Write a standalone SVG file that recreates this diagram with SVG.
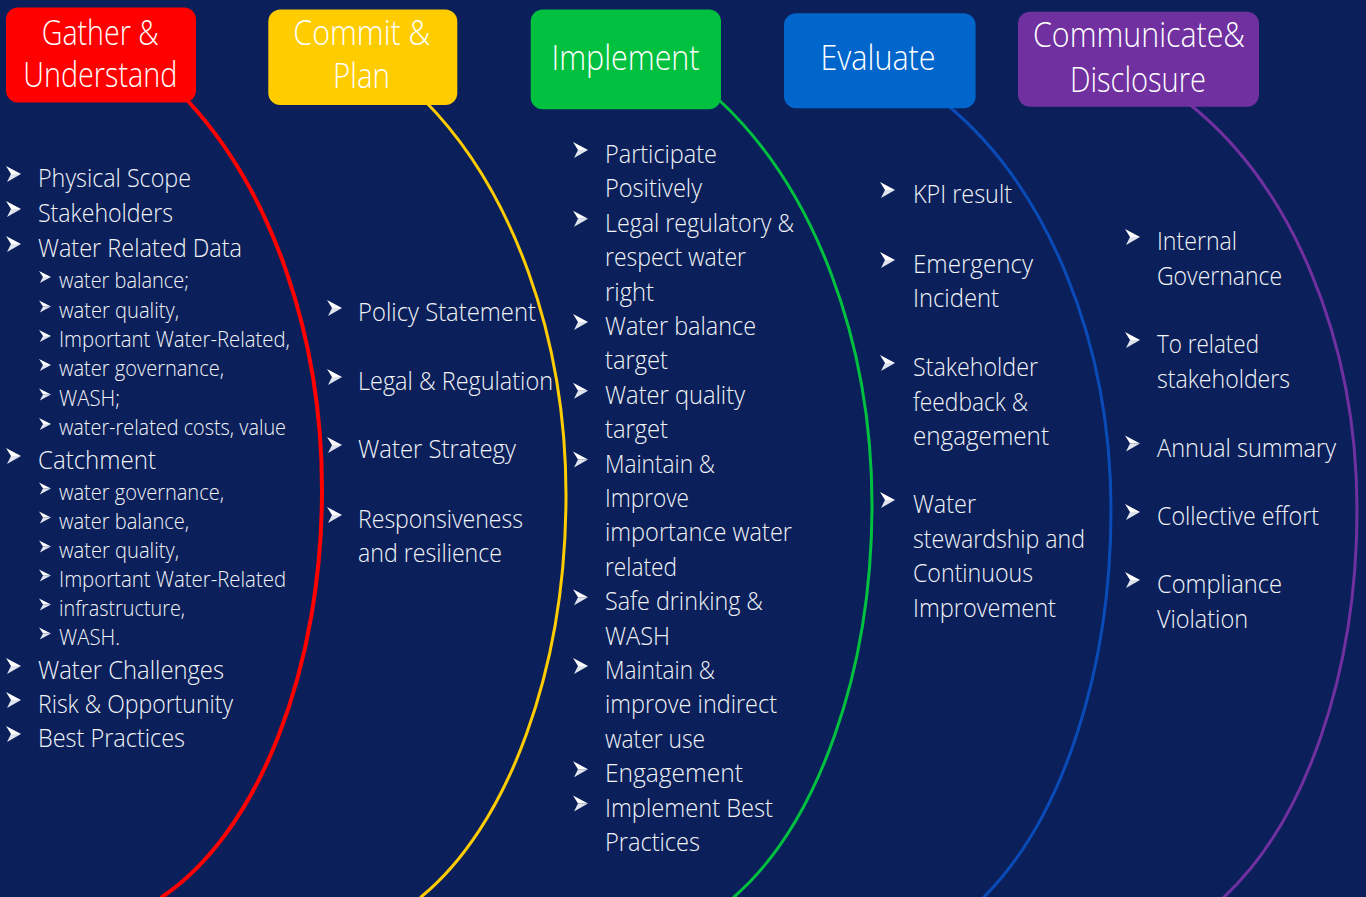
<svg xmlns="http://www.w3.org/2000/svg" width="1366" height="897" viewBox="0 0 1366 897">
<style>
.t{font-family:"Open Sans","Liberation Sans",sans-serif;font-size:25px;font-weight:300;fill:#f2f4f9}
.s{font-size:22.5px}
.h{font-family:"Open Sans","Liberation Sans",sans-serif;font-size:34px;font-weight:300;fill:#ffffff}
.c{fill:none;stroke-linecap:round}
</style>
<defs>
<g id="ar"><path d="M0,0 L15,8 L5,8 Z" fill="#ffffff"/><path d="M5,8 L15,8 L1,16 Z" fill="#dfe3ee"/></g>
<g id="as"><path d="M0,0 L12,6 L4,6 Z" fill="#ffffff"/><path d="M4,6 L12,6 L0.8,12 Z" fill="#dfe3ee"/></g>
</defs>
<rect x="0" y="0" width="1366" height="897" fill="#0b205a"/>

<g id="connectors">
<path class="c" stroke="#ff0000" stroke-width="4" d="M187,100 A330,483.4 0 0 1 322,490 A250,436.2 0 0 1 162,897"/>
<path class="c" stroke="#ffcc00" stroke-width="3" d="M424,100 A330,480.6 0 0 1 566,495 A250,443 0 0 1 421,897"/>
<path class="c" stroke="#00c040" stroke-width="3" d="M719,100 A330,480 0 0 1 872,505 A250,438.5 0 0 1 734,897"/>
<path class="c" stroke="#0a4bb8" stroke-width="3" d="M946,104 A330,469 0 0 1 1111,510 A250,444.5 0 0 1 984,897"/>
<path class="c" stroke="#7030a0" stroke-width="3" d="M1188,103 A330,466 0 0 1 1357,510 A250,438 0 0 1 1224,897"/>
</g>

<g id="gather">
<rect x="6" y="7.5" width="190" height="95" rx="12" fill="#ff0000"/>
<text class="h" x="41.7" y="45" textLength="117" lengthAdjust="spacingAndGlyphs">Gather &amp;</text>
<text class="h" x="23.3" y="87" textLength="154" lengthAdjust="spacingAndGlyphs">Understand</text>
</g>
<g id="commit">
<rect x="268.3" y="9.5" width="189" height="95.5" rx="12" fill="#ffcc00"/>
<text class="h" x="293.3" y="45" textLength="137" lengthAdjust="spacingAndGlyphs">Commit &amp;</text>
<text class="h" x="333" y="88" textLength="57" lengthAdjust="spacingAndGlyphs">Plan</text>
</g>
<g id="implement">
<rect x="530.7" y="9.5" width="190.3" height="99.8" rx="12" fill="#00c040"/>
<text class="h" x="551.5" y="70" textLength="148" lengthAdjust="spacingAndGlyphs">Implement</text>
</g>
<g id="evaluate">
<rect x="784" y="13.3" width="191.6" height="95" rx="12" fill="#0066cc"/>
<text class="h" x="820.5" y="70" textLength="115" lengthAdjust="spacingAndGlyphs">Evaluate</text>
</g>
<g id="communicate">
<rect x="1018" y="11.7" width="241" height="95" rx="12" fill="#7030a0"/>
<text class="h" x="1033" y="47" textLength="212" lengthAdjust="spacingAndGlyphs">Communicate&amp;</text>
<text class="h" x="1070" y="92" textLength="136" lengthAdjust="spacingAndGlyphs">Disclosure</text>
</g>

<g id="list-gather">
<use href="#ar" x="6" y="166"/><text class="t" x="38" y="187" textLength="153" lengthAdjust="spacingAndGlyphs">Physical Scope</text>
<use href="#ar" x="6" y="201"/><text class="t" x="38" y="222" textLength="135" lengthAdjust="spacingAndGlyphs">Stakeholders</text>
<use href="#ar" x="6" y="236"/><text class="t" x="38" y="257" textLength="204" lengthAdjust="spacingAndGlyphs">Water Related Data</text>
<use href="#as" x="39" y="271"/><text class="t s" x="59" y="288" textLength="130" lengthAdjust="spacingAndGlyphs">water balance;</text>
<use href="#as" x="39" y="300.5"/><text class="t s" x="59" y="317.5" textLength="120" lengthAdjust="spacingAndGlyphs">water quality,</text>
<use href="#as" x="39" y="330"/><text class="t s" x="59" y="347" textLength="231" lengthAdjust="spacingAndGlyphs">Important Water-Related,</text>
<use href="#as" x="39" y="359"/><text class="t s" x="59" y="376" textLength="165" lengthAdjust="spacingAndGlyphs">water governance,</text>
<use href="#as" x="39" y="388.5"/><text class="t s" x="59" y="405.5" textLength="61" lengthAdjust="spacingAndGlyphs">WASH;</text>
<use href="#as" x="39" y="418"/><text class="t s" x="59" y="435" textLength="227" lengthAdjust="spacingAndGlyphs">water-related costs, value</text>
<use href="#ar" x="6" y="448"/><text class="t" x="38" y="469" textLength="118" lengthAdjust="spacingAndGlyphs">Catchment</text>
<use href="#as" x="39" y="482.5"/><text class="t s" x="59" y="499.5" textLength="165" lengthAdjust="spacingAndGlyphs">water governance,</text>
<use href="#as" x="39" y="511.5"/><text class="t s" x="59" y="528.5" textLength="130" lengthAdjust="spacingAndGlyphs">water balance,</text>
<use href="#as" x="39" y="540.5"/><text class="t s" x="59" y="557.5" textLength="120" lengthAdjust="spacingAndGlyphs">water quality,</text>
<use href="#as" x="39" y="569.5"/><text class="t s" x="59" y="586.5" textLength="227" lengthAdjust="spacingAndGlyphs">Important Water-Related</text>
<use href="#as" x="39" y="598.5"/><text class="t s" x="59" y="615.5" textLength="126" lengthAdjust="spacingAndGlyphs">infrastructure,</text>
<use href="#as" x="39" y="627.5"/><text class="t s" x="59" y="644.5" textLength="61" lengthAdjust="spacingAndGlyphs">WASH.</text>
<use href="#ar" x="6" y="658"/><text class="t" x="38" y="679" textLength="186" lengthAdjust="spacingAndGlyphs">Water Challenges</text>
<use href="#ar" x="6" y="692"/><text class="t" x="38" y="713" textLength="195" lengthAdjust="spacingAndGlyphs">Risk &amp; Opportunity</text>
<use href="#ar" x="6" y="726"/><text class="t" x="38" y="747" textLength="147" lengthAdjust="spacingAndGlyphs">Best Practices</text>
</g>

<g id="list-commit">
<use href="#ar" x="327" y="300"/><text class="t" x="358" y="321" textLength="178" lengthAdjust="spacingAndGlyphs">Policy Statement</text>
<use href="#ar" x="327" y="369"/><text class="t" x="358" y="390" textLength="195" lengthAdjust="spacingAndGlyphs">Legal &amp; Regulation</text>
<use href="#ar" x="327" y="437"/><text class="t" x="358" y="458" textLength="158" lengthAdjust="spacingAndGlyphs">Water Strategy</text>
<use href="#ar" x="327" y="507"/><text class="t" x="358" y="528" textLength="165" lengthAdjust="spacingAndGlyphs">Responsiveness</text>
<text class="t" x="358" y="562" textLength="144" lengthAdjust="spacingAndGlyphs">and resilience</text>
</g>

<g id="list-implement">
<use href="#ar" x="573" y="142"/><text class="t" x="605" y="163" textLength="112" lengthAdjust="spacingAndGlyphs">Participate</text>
<text class="t" x="605" y="197.4" textLength="97" lengthAdjust="spacingAndGlyphs">Positively</text>
<use href="#ar" x="573" y="210.8"/><text class="t" x="605" y="231.8" textLength="189" lengthAdjust="spacingAndGlyphs">Legal regulatory &amp;</text>
<text class="t" x="605" y="266.2" textLength="141" lengthAdjust="spacingAndGlyphs">respect water</text>
<text class="t" x="605" y="300.6" textLength="49" lengthAdjust="spacingAndGlyphs">right</text>
<use href="#ar" x="573" y="314"/><text class="t" x="605" y="335" textLength="151" lengthAdjust="spacingAndGlyphs">Water balance</text>
<text class="t" x="605" y="369.4" textLength="63" lengthAdjust="spacingAndGlyphs">target</text>
<use href="#ar" x="573" y="382.8"/><text class="t" x="605" y="403.8" textLength="140" lengthAdjust="spacingAndGlyphs">Water quality</text>
<text class="t" x="605" y="438.2" textLength="63" lengthAdjust="spacingAndGlyphs">target</text>
<use href="#ar" x="573" y="451.6"/><text class="t" x="605" y="472.6" textLength="110" lengthAdjust="spacingAndGlyphs">Maintain &amp;</text>
<text class="t" x="605" y="507" textLength="84" lengthAdjust="spacingAndGlyphs">Improve</text>
<text class="t" x="605" y="541.4" textLength="187" lengthAdjust="spacingAndGlyphs">importance water</text>
<text class="t" x="605" y="575.8" textLength="72" lengthAdjust="spacingAndGlyphs">related</text>
<use href="#ar" x="573" y="589.2"/><text class="t" x="605" y="610.2" textLength="158" lengthAdjust="spacingAndGlyphs">Safe drinking &amp;</text>
<text class="t" x="605" y="644.6" textLength="65" lengthAdjust="spacingAndGlyphs">WASH</text>
<use href="#ar" x="573" y="658"/><text class="t" x="605" y="679" textLength="110" lengthAdjust="spacingAndGlyphs">Maintain &amp;</text>
<text class="t" x="605" y="713.4" textLength="172" lengthAdjust="spacingAndGlyphs">improve indirect</text>
<text class="t" x="605" y="747.8" textLength="100" lengthAdjust="spacingAndGlyphs">water use</text>
<use href="#ar" x="573" y="761.2"/><text class="t" x="605" y="782.2" textLength="138" lengthAdjust="spacingAndGlyphs">Engagement</text>
<use href="#ar" x="573" y="795.6"/><text class="t" x="605" y="816.6" textLength="168" lengthAdjust="spacingAndGlyphs">Implement Best</text>
<text class="t" x="605" y="851" textLength="95" lengthAdjust="spacingAndGlyphs">Practices</text>
</g>

<g id="list-evaluate">
<use href="#ar" x="880" y="182"/><text class="t" x="913" y="203" textLength="99" lengthAdjust="spacingAndGlyphs">KPI result</text>
<use href="#ar" x="880" y="252"/><text class="t" x="913" y="273" textLength="120" lengthAdjust="spacingAndGlyphs">Emergency</text>
<text class="t" x="913" y="307" textLength="86" lengthAdjust="spacingAndGlyphs">Incident</text>
<use href="#ar" x="880" y="355"/><text class="t" x="913" y="376" textLength="125" lengthAdjust="spacingAndGlyphs">Stakeholder</text>
<text class="t" x="913" y="410.5" textLength="115" lengthAdjust="spacingAndGlyphs">feedback &amp;</text>
<text class="t" x="913" y="445" textLength="136" lengthAdjust="spacingAndGlyphs">engagement</text>
<use href="#ar" x="880" y="492"/><text class="t" x="913" y="513" textLength="63" lengthAdjust="spacingAndGlyphs">Water</text>
<text class="t" x="913" y="547.5" textLength="172" lengthAdjust="spacingAndGlyphs">stewardship and</text>
<text class="t" x="913" y="582" textLength="120" lengthAdjust="spacingAndGlyphs">Continuous</text>
<text class="t" x="913" y="616.5" textLength="143" lengthAdjust="spacingAndGlyphs">Improvement</text>
</g>

<g id="list-communicate">
<use href="#ar" x="1125" y="229"/><text class="t" x="1157" y="250" textLength="80" lengthAdjust="spacingAndGlyphs">Internal</text>
<text class="t" x="1157" y="285" textLength="125" lengthAdjust="spacingAndGlyphs">Governance</text>
<use href="#ar" x="1125" y="332"/><text class="t" x="1157" y="353" textLength="102" lengthAdjust="spacingAndGlyphs">To related</text>
<text class="t" x="1157" y="388" textLength="133" lengthAdjust="spacingAndGlyphs">stakeholders</text>
<use href="#ar" x="1125" y="435.5"/><text class="t" x="1157" y="456.5" textLength="179" lengthAdjust="spacingAndGlyphs">Annual summary</text>
<use href="#ar" x="1125" y="504"/><text class="t" x="1157" y="525" textLength="162" lengthAdjust="spacingAndGlyphs">Collective effort</text>
<use href="#ar" x="1125" y="572"/><text class="t" x="1157" y="593" textLength="125" lengthAdjust="spacingAndGlyphs">Compliance</text>
<text class="t" x="1157" y="628" textLength="91" lengthAdjust="spacingAndGlyphs">Violation</text>
</g>
</svg>
